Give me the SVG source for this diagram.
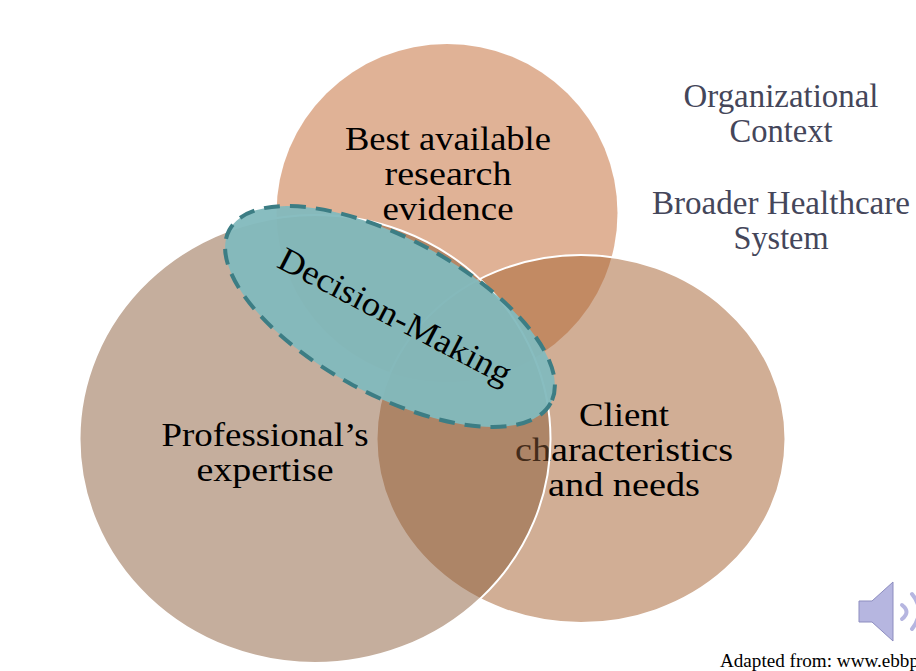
<svg xmlns="http://www.w3.org/2000/svg" width="916" height="671" viewBox="0 0 916 671">
<style>
text{font-family:"Liberation Serif","Times New Roman",serif;text-anchor:middle;font-size:34px;fill:#000}
.c{stroke:#fff;stroke-width:2}
.o{fill:#44465a}
</style>
<rect width="916" height="671" fill="#fff"/>
<g id="research"><ellipse cx="447" cy="213" rx="170.500" ry="169" fill="#cb7f50" fill-opacity=".6"/>
<text x="448" y="150" textLength="206" lengthAdjust="spacingAndGlyphs">Best available</text><text x="448" y="185" textLength="127" lengthAdjust="spacingAndGlyphs">research</text><text x="448" y="220" textLength="131" lengthAdjust="spacingAndGlyphs">evidence</text></g>
<g id="client"><ellipse cx="581" cy="439" rx="204.500" ry="184" fill="#a86637" fill-opacity=".53" class="c"/>
<text x="624" y="426" textLength="90" lengthAdjust="spacingAndGlyphs">Client</text><text x="624" y="461" textLength="218" lengthAdjust="spacingAndGlyphs">characteristics</text><text x="624" y="496" textLength="152" lengthAdjust="spacingAndGlyphs">and needs</text></g>
<g id="professional"><ellipse cx="315" cy="439" rx="235.500" ry="224" fill="#895a37" fill-opacity=".49" class="c"/>
<text x="265" y="446" textLength="207" lengthAdjust="spacingAndGlyphs">Professional’s</text><text x="265" y="481" textLength="137" lengthAdjust="spacingAndGlyphs">expertise</text></g>
<g id="decision"><ellipse cx="390" cy="316.500" rx="182.500" ry="78" transform="rotate(28.300 390 316.500)" fill="#82b9bd" fill-opacity=".95" stroke="#3c7d84" stroke-width="4" stroke-dasharray="16 10"/>
<text transform="translate(390 326) rotate(27.500)" textLength="258" lengthAdjust="spacingAndGlyphs">Decision-Making</text></g>
<g id="context"><text class="o" x="781" y="107" textLength="195" lengthAdjust="spacingAndGlyphs">Organizational</text><text class="o" x="781" y="142" textLength="103" lengthAdjust="spacingAndGlyphs">Context</text>
<text class="o" x="781" y="214" textLength="258" lengthAdjust="spacingAndGlyphs">Broader Healthcare</text><text class="o" x="781" y="249" textLength="95" lengthAdjust="spacingAndGlyphs">System</text></g>
<g id="citation"><text x="720" y="667" style="text-anchor:start;font-size:18px" textLength="199" lengthAdjust="spacingAndGlyphs">Adapted from: www.ebbp</text></g>
<g id="speaker"><path d="M859 601H872L893 582V641L872 622H859Z" fill="#b6b6e0" stroke="#8d8dbf" stroke-width="1"/>
<path d="M902 605Q911 612 902 619" fill="none" stroke="#b6b6e0" stroke-width="4" stroke-linecap="round"/><path d="M912 594Q926 611 912 629" fill="none" stroke="#b6b6e0" stroke-width="4" stroke-linecap="round"/></g>
<g id="connectors"/>
</svg>
